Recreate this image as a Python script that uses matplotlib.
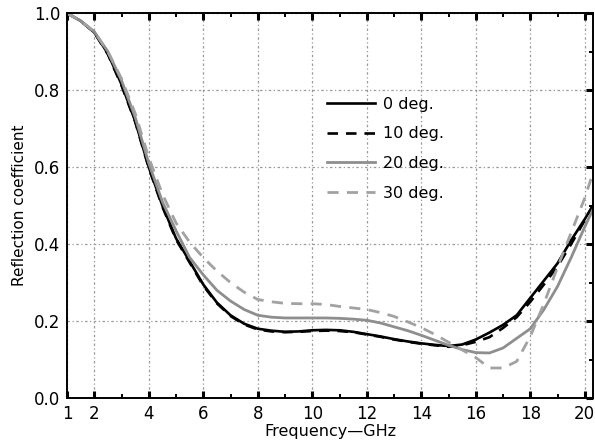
import matplotlib
matplotlib.use("Agg")
import matplotlib.pyplot as plt
from matplotlib.ticker import MultipleLocator

plt.rcParams['font.family'] = ['DejaVu Sans']

# frequency grid (GHz)
freq = [1.0, 1.5, 2.0, 2.5, 3.0, 3.5, 4.0, 4.5, 5.0, 5.5, 6.0, 6.5, 7.0, 7.5,
        8.0, 8.5, 9.0, 9.5, 10.0, 10.5, 11.0, 11.5, 12.0, 12.5, 13.0, 13.5,
        14.0, 14.5, 15.0, 15.5, 16.0, 16.5, 17.0, 17.5, 18.0, 18.5, 19.0,
        19.5, 20.0, 20.3]

deg0 = [1.00, 0.98, 0.95, 0.895, 0.815, 0.72, 0.60, 0.50, 0.415, 0.355, 0.295,
        0.248, 0.215, 0.193, 0.18, 0.175, 0.172, 0.173, 0.176, 0.177, 0.176,
        0.172, 0.166, 0.16, 0.153, 0.147, 0.142, 0.138, 0.135, 0.139, 0.152,
        0.17, 0.19, 0.215, 0.26, 0.305, 0.35, 0.41, 0.465, 0.50]

deg10 = [1.00, 0.98, 0.95, 0.893, 0.812, 0.718, 0.598, 0.497, 0.412, 0.352,
         0.292, 0.246, 0.213, 0.191, 0.178, 0.173, 0.171, 0.172, 0.174, 0.175,
         0.174, 0.171, 0.165, 0.159, 0.152, 0.146, 0.141, 0.137, 0.133, 0.137,
         0.146, 0.158, 0.182, 0.21, 0.25, 0.295, 0.342, 0.40, 0.462, 0.50]

deg20 = [1.00, 0.98, 0.952, 0.90, 0.825, 0.73, 0.61, 0.51, 0.435, 0.365, 0.32,
         0.28, 0.252, 0.23, 0.215, 0.21, 0.208, 0.208, 0.208, 0.208, 0.207,
         0.205, 0.202, 0.195, 0.185, 0.175, 0.163, 0.15, 0.137, 0.126, 0.118,
         0.117, 0.13, 0.155, 0.18, 0.23, 0.29, 0.365, 0.445, 0.49]

deg30 = [1.00, 0.98, 0.952, 0.90, 0.83, 0.74, 0.625, 0.53, 0.455, 0.405, 0.365,
         0.33, 0.30, 0.275, 0.256, 0.25, 0.246, 0.245, 0.245, 0.243, 0.238,
         0.234, 0.23, 0.222, 0.212, 0.198, 0.183, 0.165, 0.145, 0.125, 0.105,
         0.078, 0.078, 0.095, 0.16, 0.245, 0.34, 0.43, 0.52, 0.585]

labels = ["0 deg.", "10 deg.", "20 deg.", "30 deg."]
xticks = [1, 2, 4, 6, 8, 10, 12, 14, 16, 18, 20]
yticks = [0.0, 0.2, 0.4, 0.6, 0.8, 1.0]

fig = plt.figure(figsize=(5.95, 4.48), dpi=100)
ax = fig.add_axes([0.1126, 0.1116, 0.884, 0.859])

ax.plot(freq, deg0, color="black", lw=1.9, ls="-", label=labels[0])
ax.plot(freq, deg10, color="black", lw=1.9, ls=(0, (4, 3)), label=labels[1])
ax.plot(freq, deg20, color="#8e8e8e", lw=2.0, ls="-", label=labels[2])
ax.plot(freq, deg30, color="#a2a2a2", lw=2.0, ls=(0, (4, 3)), label=labels[3])

ax.set_xlim(1, 20.3)
ax.set_ylim(0, 1.0)
ax.set_xticks(xticks)
ax.set_xticklabels([str(t) for t in xticks])
ax.set_yticks(yticks)
ax.set_yticklabels(["%.1f" % t for t in yticks])
ax.xaxis.set_minor_locator(MultipleLocator(1))
ax.yaxis.set_minor_locator(MultipleLocator(0.1))

ax.grid(True, which="major", color="#9a9a9a", lw=0.9, ls=(0, (2, 2, 1, 2)))

ax.tick_params(which="both", direction="in", top=True, right=True, left=False,
               labelsize=12, pad=5)
ax.tick_params(which="major", length=5, width=2.2)
ax.tick_params(which="minor", length=3, width=1.4)
ax.tick_params(axis="y", which="both", left=False)

for s in ax.spines.values():
    s.set_linewidth(1.4)

ax.set_xlabel("Frequency\u2014GHz", fontsize=11.5, labelpad=1)
ax.set_ylabel("Reflection coefficient", fontsize=11, labelpad=5)

ax.legend(loc="upper left", bbox_to_anchor=(0.483, 0.80), frameon=False,
          fontsize=11.5, handlelength=3.0, handletextpad=0.5, labelspacing=0.92,
          borderaxespad=0)

fig.savefig("out.png", dpi=100)
